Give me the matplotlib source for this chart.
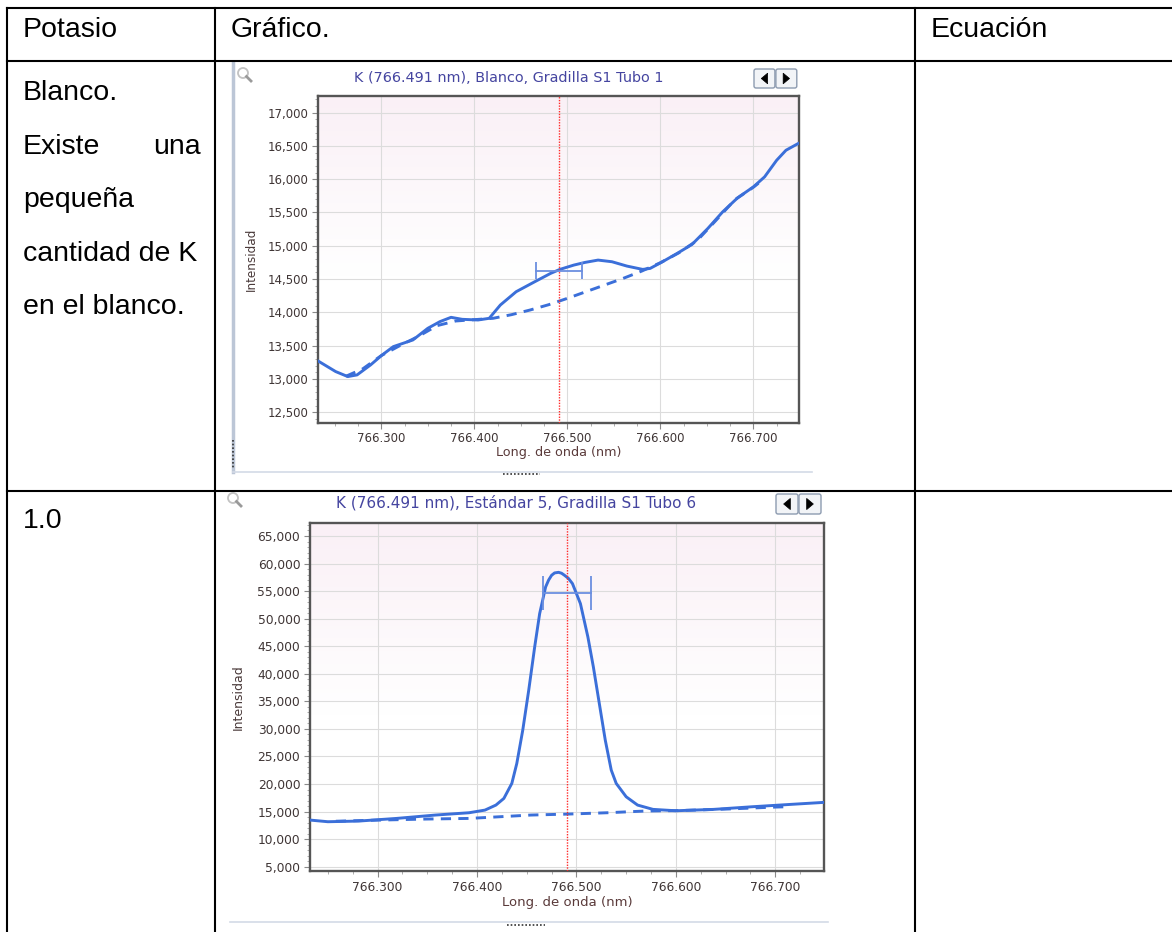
import matplotlib.pyplot as plt
import matplotlib.ticker as mticker
import numpy as np
from matplotlib.patches import FancyBboxPatch, Polygon, Circle

blanco_wl = [766.232, 766.251, 766.264, 766.274, 766.2885, 766.301, 766.313, 766.334,
             766.350, 766.363, 766.375, 766.387, 766.404, 766.416, 766.428, 766.445,
             766.465, 766.482, 766.492, 766.507, 766.519, 766.533, 766.548, 766.564,
             766.581, 766.589, 766.601, 766.618, 766.634, 766.651, 766.667, 766.683,
             766.700, 766.712, 766.725, 766.735, 766.748]
blanco_int = [13270, 13110, 13035, 13060, 13210, 13360, 13485, 13585,
              13760, 13860, 13925, 13895, 13885, 13910, 14110, 14310,
              14460, 14585, 14645, 14710, 14750, 14785, 14760, 14695,
              14645, 14660, 14750, 14885, 15020, 15260, 15510, 15720,
              15885, 16035, 16285, 16435, 16535]

blanco_fondo_wl = [766.262, 766.280, 766.300, 766.320, 766.340, 766.360, 766.380, 766.400,
                   766.420, 766.440, 766.460, 766.480, 766.500, 766.520, 766.540, 766.560,
                   766.580, 766.600, 766.620, 766.640, 766.660, 766.680, 766.700, 766.710]
blanco_fondo = [13040, 13150, 13350, 13500, 13640, 13800, 13870, 13890,
                13910, 13965, 14035, 14115, 14210, 14310, 14410, 14510,
                14620, 14745, 14895, 15085, 15385, 15690, 15880, 15990]

std5_wl = [766.232, 766.250, 766.281, 766.319, 766.358, 766.392, 766.408, 766.419,
           766.427, 766.435, 766.440, 766.446, 766.452, 766.458, 766.463, 766.469,
           766.472, 766.475, 766.478, 766.482, 766.485, 766.488, 766.492, 766.496,
           766.504, 766.5115, 766.517, 766.523, 766.529, 766.535, 766.540, 766.550,
           766.5615, 766.577, 766.600, 766.638, 766.677, 766.715, 766.748]
std5_int = [13460, 13160, 13280, 13760, 14370, 14790, 15270, 16180,
            17390, 20110, 23730, 29780, 37020, 44880, 50920, 55760,
            57000, 57870, 58300, 58410, 58250, 57870, 57300, 56360,
            52730, 46690, 41260, 34610, 27960, 22530, 20110, 17690,
            16180, 15400, 15150, 15400, 15880, 16300, 16660]

std5_fondo_wl = [766.258, 766.300, 766.350, 766.392, 766.454, 766.492, 766.531, 766.569,
                 766.600, 766.650, 766.700, 766.712]
std5_fondo = [13250, 13450, 13650, 13760, 14370, 14550, 14790, 15100,
              15170, 15450, 15820, 15880]

linea_k = 766.491
ventana_blanco = (766.466, 766.516, 14625, 125)
ventana_std5 = (766.466, 766.515, 54700, 3050)

x_ticks = [766.300, 766.400, 766.500, 766.600, 766.700]
y_ticks_blanco = [12500, 13000, 13500, 14000, 14500, 15000, 15500, 16000, 16500, 17000]
y_ticks_std5 = [5000, 10000, 15000, 20000, 25000, 30000, 35000, 40000, 45000, 50000,
                55000, 60000, 65000]

encabezados = ["Potasio", "Gráfico.", "Ecuación"]
texto_blanco = ["Blanco.", "pequeña", "cantidad de K", "en el blanco."]

W, H = 1172, 932
AZUL = "#3b6fd9"
AZUL_CLARO = "#6b8fe0"


def rect_px(l, t, r, b):
    return [l / W, 1 - b / H, (r - l) / W, (b - t) / H]


def dibujar_botones(ov, x0, y0, y1):
    w = (y1 - y0) * 1.1
    for i in range(2):
        bx = x0 + i * (w + 1)
        ov.add_patch(FancyBboxPatch((bx, y0), w, y1 - y0, boxstyle="round,pad=0,rounding_size=2",
                                    fc="#f2f4f7", ec="#8d9bb0", lw=1.0, zorder=3))
        cx, cy, s = bx + w / 2, (y0 + y1) / 2, (y1 - y0) * 0.28
        if i == 0:
            pts = [(cx + s * 0.6, cy - s), (cx + s * 0.6, cy + s), (cx - s * 0.6, cy)]
        else:
            pts = [(cx - s * 0.6, cy - s), (cx - s * 0.6, cy + s), (cx + s * 0.6, cy)]
        ov.add_patch(Polygon(pts, closed=True, fc="black", ec="black", lw=0.5, zorder=4))


def dibujar_lupa(ov, x, y):
    ov.add_patch(Circle((x, y), 5, fill=False, ec="#c2c2c2", lw=1.3, zorder=3))
    ov.plot([x + 3.5, x + 8], [y + 3.5, y + 8], color="#9a9a9a", lw=2, zorder=3)


def dibujar_espectro(rect, wl, inten, wl_f, fondo, ventana, ylim, yticks, yminor, fs):
    ax = fig.add_axes(rect, zorder=2)
    # fondo rosado degradado en la parte alta
    grad = np.linspace(1, 0, 200).reshape(-1, 1)
    grad = np.clip((grad - 0.45) / 0.55, 0, 1)
    img = np.ones((200, 1, 3))
    rosa = np.array([250, 240, 246]) / 255.0
    img = img * (1 - grad[..., None]) + rosa * grad[..., None]
    ax.imshow(img, extent=[0, 1, 0, 1], transform=ax.transAxes, aspect="auto", zorder=0)

    ax.plot(wl_f, fondo, color=AZUL, lw=2.1, ls=(0, (3.5, 2.5)), zorder=3)
    ax.plot(wl, inten, color=AZUL, lw=2.1, zorder=4)
    ax.axvline(linea_k, color="#ff2a2a", lw=1.0, ls=(0, (1, 1)), zorder=5)
    lo, hi, nivel, media = ventana
    ax.plot([lo, hi], [nivel, nivel], color=AZUL_CLARO, lw=1.3, zorder=6)
    ax.vlines([lo, hi], nivel - media, nivel + media, color=AZUL_CLARO, lw=1.3, zorder=6)

    ax.set_xlim(766.232, 766.749)
    ax.set_ylim(*ylim)
    ax.set_xticks(x_ticks)
    ax.set_yticks(yticks)
    ax.xaxis.set_minor_locator(mticker.MultipleLocator(0.025))
    ax.yaxis.set_minor_locator(mticker.MultipleLocator(yminor))
    ax.xaxis.set_major_formatter(mticker.FuncFormatter(lambda v, p: f"{v:.3f}"))
    ax.yaxis.set_major_formatter(mticker.FuncFormatter(lambda v, p: f"{v:,.0f}"))
    ax.tick_params(which="major", length=4, width=0.8, color="#8a8a8a", labelsize=fs,
                   labelcolor="#3f3535", pad=3)
    ax.tick_params(which="minor", length=2, width=0.6, color="#a0a0a0")
    ax.grid(True, which="major", color="#dcdcdc", lw=0.8, zorder=1)
    ax.set_axisbelow(True)
    for sp in ax.spines.values():
        sp.set_color("#555555")
        sp.set_linewidth(1.7)
    ax.set_xlabel("Long. de onda (nm)", fontsize=fs * 1.08, color="#5a3a3a")
    ax.set_ylabel("Intensidad", fontsize=fs * 1.02, color="#4a3a3a")
    ax.xaxis.set_label_coords(0.5, -0.073)
    ax.yaxis.set_label_coords(-0.126, 0.5)
    return ax


fig = plt.figure(figsize=(W / 100, H / 100), dpi=100)
ov = fig.add_axes([0, 0, 1, 1], zorder=1)
ov.set_xlim(0, W)
ov.set_ylim(H, 0)
ov.axis("off")

# Tabla
lw_tabla = 1.5
for y in [8, 61, 490.5]:
    ov.plot([6.5, W], [y, y], color="black", lw=lw_tabla, zorder=5)
for x in [6.5, 214.5, 915]:
    ov.plot([x, x], [8, H], color="black", lw=lw_tabla, zorder=5)

fuente = dict(family=["Liberation Sans", "DejaVu Sans"], fontsize=20.5, color="black")
ov.text(23, 37, encabezados[0], va="baseline", ha="left", **fuente)
ov.text(231, 37, encabezados[1], va="baseline", ha="left", **fuente)
ov.text(931, 37, encabezados[2], va="baseline", ha="left", **fuente)

base, paso = 100, 53.6
ov.text(23, base, texto_blanco[0], va="baseline", ha="left", **fuente)
ov.text(23, base + paso, "Existe", va="baseline", ha="left", **fuente)
ov.text(201, base + paso, "una", va="baseline", ha="right", **fuente)
for i, t in enumerate(texto_blanco[1:]):
    ov.text(23, base + paso * (i + 2), t, va="baseline", ha="left", **fuente)
ov.text(23, 528, "1.0", va="baseline", ha="left", **fuente)

# Marco de la primera captura
ov.plot([233, 233], [63, 472], color="#bcc6d6", lw=2.5, zorder=2)
ov.plot([233, 233], [440, 468], color="#333333", lw=1.2, ls=(0, (1, 1.2)), zorder=3)
ov.plot([233, 812], [472, 472], color="#d3dae6", lw=1.2, zorder=2)
ov.plot([503, 540], [474, 474], color="#333333", lw=1.2, ls=(0, (1, 1.2)), zorder=3)
dibujar_lupa(ov, 243, 73)
dibujar_botones(ov, 754, 69, 88)
ov.text(509, 78, "K (766.491 nm), Blanco, Gradilla S1 Tubo 1", ha="center", va="center",
        fontsize=10.4, color="#4545a0")

# Marco de la segunda captura
ov.plot([230, 828], [922, 922], color="#d3dae6", lw=1.2, zorder=2)
ov.plot([507, 545], [925, 925], color="#333333", lw=1.2, ls=(0, (1, 1.2)), zorder=3)
dibujar_lupa(ov, 233, 498)
dibujar_botones(ov, 776, 494, 514)
ov.text(516, 503, "K (766.491 nm), Estándar 5, Gradilla S1 Tubo 6", ha="center", va="center",
        fontsize=11.0, color="#4545a0")

dibujar_espectro(rect_px(318, 96, 799, 422.5), blanco_wl, blanco_int, blanco_fondo_wl,
                 blanco_fondo, ventana_blanco, (12345, 17250), y_ticks_blanco, 100, 8.5)
dibujar_espectro(rect_px(310, 523, 824, 871), std5_wl, std5_int, std5_fondo_wl,
                 std5_fondo, ventana_std5, (4220, 67360), y_ticks_std5, 1000, 8.8)

fig.savefig("out.png", dpi=100)
